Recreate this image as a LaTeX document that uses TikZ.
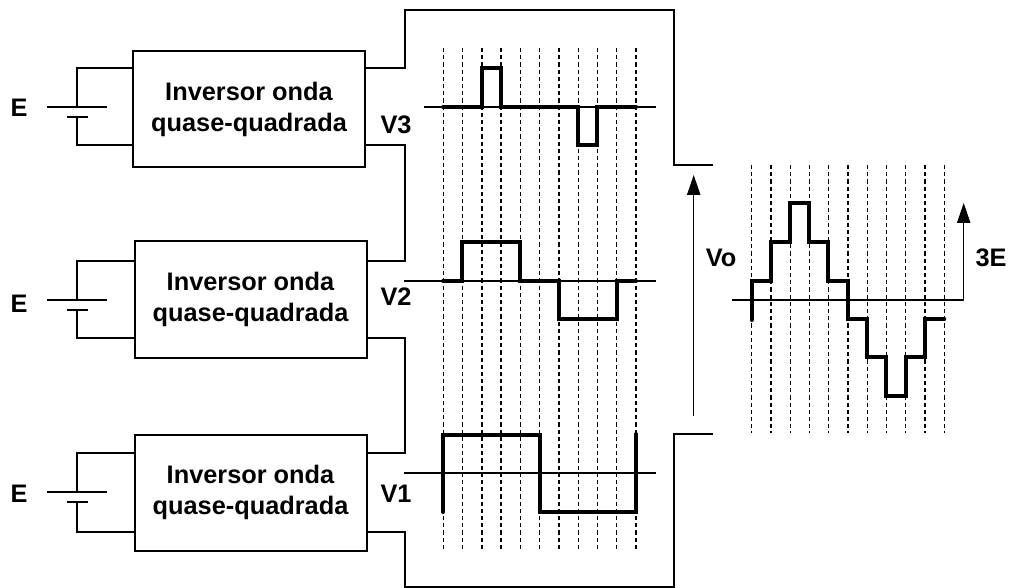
\documentclass[tikz,border=0pt]{standalone}
\usepackage{fontspec}
\setmainfont{Liberation Sans}
\usetikzlibrary{arrows.meta}

\begin{document}
\begin{tikzpicture}[
  x=0.75pt,y=-0.75pt,
  every node/.style={font=\fontsize{19}{23.2}\selectfont\bfseries},
  inv/.style={draw,line width=1.5pt,minimum width=174pt,minimum height=87pt,
    align=center,outer sep=0pt,inner sep=0pt},
  wire/.style={line width=1.5pt,line join=miter},
  axis/.style={line width=0.9pt},
  guide/.style={line width=1pt,dash pattern=on 3.2pt off 2.2pt},
  wave/.style={line width=3pt,line join=miter,line cap=round},
  arr/.style={-{Triangle[length=15pt,width=10pt]},line width=1pt}
]
  \useasboundingbox (0,0) rectangle (1011,588);

  % the three stages
  \foreach \n/\cx/\cy/\yu/\yd/\yp/\ye in {3/249/109/68/145/107/108,2/250.5/299.5/261/338/300/304,1/250.5/492.5/453/531.5/492/494}{
    \node[inv] (inv\n) at (\cx,\cy) {Inversor onda\\quase-quadrada};
    \node (E\n) at (19,\ye) {E};
    \coordinate (ul\n) at (inv\n.west |- 0,\yu);
    \coordinate (dl\n) at (inv\n.west |- 0,\yd);
    \coordinate (ur\n) at (inv\n.east |- 0,\yu);
    \coordinate (dr\n) at (inv\n.east |- 0,\yd);
    \coordinate (pos\n) at (77,\yp);
    \coordinate (neg\n) at (77,\yp+10);
    \draw[wire] (pos\n) |- (ul\n);
    \draw[wire] (neg\n) |- (dl\n);
    \draw[wire] (47,\yp) -- (107,\yp);
    \draw[wire] (67,\yp+10) -- (88,\yp+10);
  }

  \node (V3) at (396,125) {V3};
  \node (V2) at (396,297) {V2};
  \node (V1) at (396,494) {V1};
  \node (Vo) at (721,258) {Vo};
  \node (tripE) at (991,258) {3E};

  % series connection
  \coordinate (railTop) at (404.5,10);
  \coordinate (railBot) at (404.5,587);
  \coordinate (outTop) at (713,165);
  \coordinate (outBot) at (713,434);
  \draw[wire] (ur3) -| (railTop) -- (674,10) |- (outTop);
  \draw[wire] (dr3) -| (404.5,261) -- (ur2);
  \draw[wire] (dr2) -| (404.5,453) -- (ur1);
  \draw[wire] (dr1) -| (railBot) -- (673.5,587) |- (outBot);

  % guide lines
  \foreach \i in {0,...,10}{
    \draw[guide] ({443.3+19.27*\i},48) -- ({443.3+19.27*\i},551);
    \draw[guide] ({751.7+19.26*\i},165) -- ({751.7+19.26*\i},433);
  }

  % V3
  \draw[axis] (424,107) -- (656,107);
  \draw[wave] (443,107) -- (481.7,107) -- (481.7,68) -- (501,68) -- (501,107)
    -- (578,107) -- (578,145) -- (597.3,145) -- (597.3,107) -- (636,107);
  % V2
  \draw[axis] (404,281) -- (656,281);
  \draw[wave] (443,281) -- (462.3,281) -- (462.3,242) -- (520.3,242) -- (520.3,281)
    -- (559,281) -- (559,319) -- (616.7,319) -- (616.7,281) -- (636,281);
  % V1
  \draw[axis] (404,473) -- (656,473);
  \draw[wave] (443,512) -- (443,435) -- (540,435) -- (540,512) -- (636,512) -- (636,434);

  % output
  \draw[arr] (693.7,415.7) -- (693.7,175);
  \draw[axis] (732,300) -- (963.7,300);
  \draw[arr] (963.7,300) -- (963.7,203);
  \draw[wave] (751.7,320) -- (751.7,281) -- (770.7,281) -- (770.7,242) -- (790,242)
    -- (790,203) -- (809.3,203) -- (809.3,242) -- (828.3,242) -- (828.3,281)
    -- (847.7,281) -- (847.7,319) -- (866.7,319) -- (866.7,357) -- (886.3,357)
    -- (886.3,396) -- (905.7,396) -- (905.7,357) -- (925,357) -- (925,319) -- (944.3,319);
\end{tikzpicture}
\end{document}
